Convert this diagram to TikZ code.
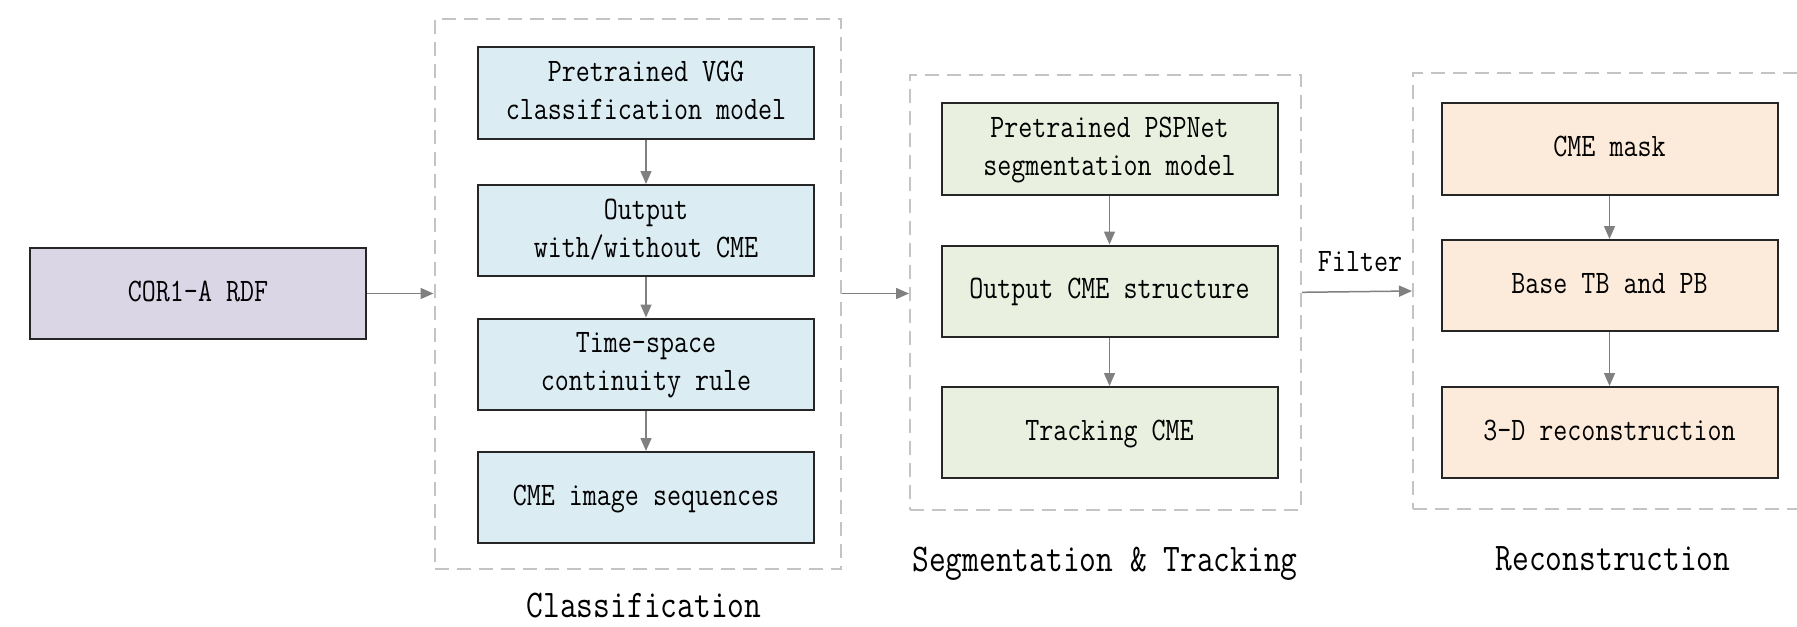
\documentclass[tikz,border=0pt]{standalone}
\usepackage{graphicx}
\usetikzlibrary{arrows.meta}

\definecolor{clsfill}{RGB}{219,236,243}
\definecolor{inputfill}{RGB}{218,214,230}
\definecolor{segfill}{RGB}{233,240,223}
\definecolor{recfill}{RGB}{252,234,218}
\definecolor{framegray}{RGB}{196,196,196}
\definecolor{arrowgray}{RGB}{128,128,128}

% narrow typewriter text, centred lines
\newcommand{\boxtxt}[1]{\scalebox{0.83}[1]{\fontsize{16.4pt}{19pt}\selectfont\ttfamily\begin{tabular}{@{}c@{}}#1\end{tabular}}}
\newcommand{\captxt}[1]{\scalebox{0.83}[1]{\fontsize{19.6pt}{23pt}\selectfont\ttfamily #1}}

\begin{document}
\begin{tikzpicture}[x=0.5pt,y=-0.5pt,
  frame/.style={draw=framegray, line width=1pt, dash pattern=on 7pt off 4pt, inner sep=0pt},
  stage/.style={draw=black!85, line width=1pt, minimum width=168pt, minimum height=45.5pt, inner sep=0pt},
  flow/.style={draw=arrowgray, line width=0.75pt, -{Triangle[length=6.5pt,width=5.5pt]}},
  caption/.style={inner sep=0pt}]
\useasboundingbox (0,0) rectangle (1797,626);

% stage frames
\node[frame, minimum width=203.25pt, minimum height=275pt] (cls) at (637.75,294) {};
\node[frame, minimum width=195.5pt, minimum height=217.7pt] (seg) at (1105.5,292.3) {};
\node[frame, minimum width=196pt, minimum height=218pt] (rec) at (1609,291) {};

% input
\node[stage, fill=inputfill] (cor) at (198,293.5) {\boxtxt{COR1-A RDF}};

% classification
\node[stage, fill=clsfill] (c1) at (646,93) {\boxtxt{Pretrained VGG\\classification model}};
\node[stage, fill=clsfill] (c2) at (646,230.5) {\boxtxt{Output\\with/without CME}};
\node[stage, fill=clsfill] (c3) at (646,364) {\boxtxt{Time-space\\continuity rule}};
\node[stage, fill=clsfill] (c4) at (646,497.5) {\boxtxt{CME image sequences}};

% segmentation and tracking
\node[stage, fill=segfill] (s1) at (1109.5,149) {\boxtxt{Pretrained PSPNet\\segmentation model}};
\node[stage, fill=segfill] (s2) at (1109.5,291) {\boxtxt{Output CME structure}};
\node[stage, fill=segfill] (s3) at (1109.5,432.5) {\boxtxt{Tracking CME}};

% reconstruction
\node[stage, fill=recfill] (r1) at (1609.5,149) {\boxtxt{CME mask}};
\node[stage, fill=recfill] (r2) at (1609.5,285.5) {\boxtxt{Base TB and PB}};
\node[stage, fill=recfill] (r3) at (1609.5,432.5) {\boxtxt{3-D reconstruction}};

% connectors
\draw[flow] (cor.east) -- (cls.west |- cor.east);
\draw[flow] (cls.east |- cor.east) -- (seg.west |- cor.east);
\draw[flow] (seg.east) -- (rec.west);
\node[caption] (filter) at (1360,264) {\boxtxt{Filter}};

\draw[flow] (c1) -- (c2);
\draw[flow] (c2) -- (c3);
\draw[flow] (c3) -- (c4);
\draw[flow] (s1) -- (s2);
\draw[flow] (s2) -- (s3);
\draw[flow] (r1) -- (r2);
\draw[flow] (r2) -- (r3);

% stage captions
\node[caption] (clscap) at (644,606) {\captxt{Classification}};
\node[caption] (segcap) at (1105,564) {\captxt{Segmentation \& Tracking}};
\node[caption] (reccap) at (1613,559) {\captxt{Reconstruction}};
\end{tikzpicture}
\end{document}
